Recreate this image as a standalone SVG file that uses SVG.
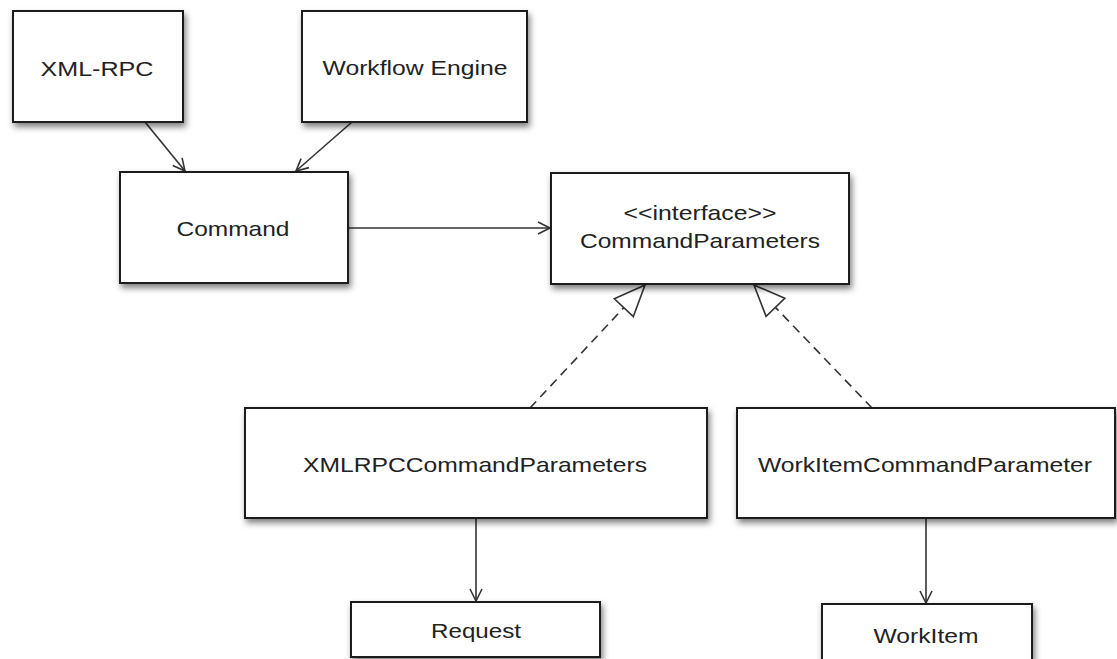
<svg xmlns="http://www.w3.org/2000/svg" width="1117" height="659" viewBox="0 0 1117 659">
  <defs>
    <filter id="shadow" x="-10%" y="-10%" width="130%" height="140%">
      <feDropShadow dx="2" dy="4" stdDeviation="3" flood-color="#000" flood-opacity="0.5"/>
    </filter>
    <marker id="open-arrow" markerUnits="userSpaceOnUse" markerWidth="16" markerHeight="16" refX="14" refY="8" orient="auto">
      <path d="M2,2 L14,8 L2,14" fill="none" stroke="#333" stroke-width="1.6"/>
    </marker>
    <marker id="realize" markerUnits="userSpaceOnUse" markerWidth="36" markerHeight="30" refX="33" refY="15" orient="auto">
      <path d="M2,2 L33,15 L2,28 Z" fill="#fff" stroke="#333" stroke-width="1.6"/>
    </marker>
    <style>
      .box { fill: #fff; stroke: #1a1a1a; stroke-width: 2; filter: url(#shadow); }
      .label { font-family: "Liberation Sans", Arial, sans-serif; font-size: 21px; fill: #222; text-anchor: middle; }
      .assoc { stroke: #333; stroke-width: 1.6; fill: none; marker-end: url(#open-arrow); }
      .real { stroke: #333; stroke-width: 1.6; fill: none; stroke-dasharray: 9 6; marker-end: url(#realize); }
    </style>
  </defs>

  <rect width="1117" height="659" fill="#fff"/>

  <!-- connectors -->
  <g id="connectors">
    <line class="assoc" x1="145" y1="122" x2="185" y2="171"/>
    <line class="assoc" x1="352" y1="122" x2="296" y2="171"/>
    <line class="assoc" x1="348" y1="228" x2="550" y2="228"/>
    <line class="real" x1="530" y1="408" x2="645" y2="285"/>
    <line class="real" x1="872" y1="408" x2="754" y2="285"/>
    <line class="assoc" x1="476" y1="518" x2="476" y2="601"/>
    <line class="assoc" x1="926" y1="518" x2="926" y2="603"/>
  </g>

  <g id="xml-rpc">
    <rect class="box" x="13" y="11" width="170" height="111"/>
    <text class="label" x="97" y="76" textLength="113" lengthAdjust="spacingAndGlyphs">XML-RPC</text>
  </g>

  <g id="workflow-engine">
    <rect class="box" x="302" y="11" width="225" height="111"/>
    <text class="label" x="415" y="75" textLength="185" lengthAdjust="spacingAndGlyphs">Workflow Engine</text>
  </g>

  <g id="command">
    <rect class="box" x="120" y="172" width="228" height="111"/>
    <text class="label" x="233" y="236" textLength="113" lengthAdjust="spacingAndGlyphs">Command</text>
  </g>

  <g id="command-parameters">
    <rect class="box" x="551" y="173" width="298" height="111"/>
    <text class="label" x="700" y="220" textLength="153" lengthAdjust="spacingAndGlyphs">&lt;&lt;interface&gt;&gt;</text>
    <text class="label" x="700" y="248" textLength="240" lengthAdjust="spacingAndGlyphs">CommandParameters</text>
  </g>

  <g id="xmlrpc-command-parameters">
    <rect class="box" x="245" y="408" width="462" height="110"/>
    <text class="label" x="475" y="472" textLength="344" lengthAdjust="spacingAndGlyphs">XMLRPCCommandParameters</text>
  </g>

  <g id="workitem-command-parameter">
    <rect class="box" x="737" y="408" width="378" height="110"/>
    <text class="label" x="925" y="472" textLength="334" lengthAdjust="spacingAndGlyphs">WorkItemCommandParameter</text>
  </g>

  <g id="request">
    <rect class="box" x="351" y="602" width="249" height="55"/>
    <text class="label" x="476" y="638" textLength="90" lengthAdjust="spacingAndGlyphs">Request</text>
  </g>

  <g id="workitem">
    <rect class="box" x="822" y="604" width="210" height="70"/>
    <text class="label" x="926" y="643" textLength="105" lengthAdjust="spacingAndGlyphs">WorkItem</text>
  </g>
</svg>
